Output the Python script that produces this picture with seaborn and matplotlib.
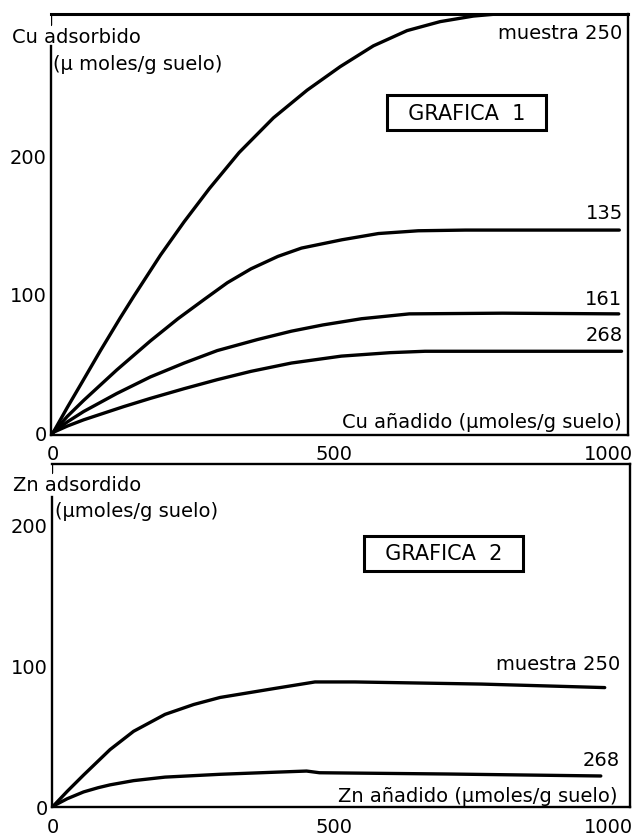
import matplotlib
matplotlib.use("Agg")
import matplotlib.pyplot as plt
import matplotlib.transforms as mtransforms
import numpy as np
import pandas as pd
import seaborn as sns

# ---------------- data ----------------
# GRAFICA 1 : Cu adsorbido vs Cu añadido
cu_250_x = [0, 25, 51, 84, 119, 143, 191, 233, 278, 331, 392, 452, 511, 570, 630, 689, 748, 790, 900, 1000]
cu_250_y = [0, 18, 36, 59, 82.5, 98, 128, 152, 176, 202, 227, 247, 264, 279, 290, 296.5, 300.5, 302, 302, 302]

cu_135_x = [0, 25, 54, 113, 173, 222, 269, 310, 352, 400, 442, 514, 579, 650, 734, 1008]
cu_135_y = [0, 11.5, 23, 45, 66, 82, 96, 108, 118, 127, 133, 139, 143.5, 145.5, 146, 146]

cu_161_x = [0, 25, 54, 113, 173, 233, 292, 364, 424, 480, 549, 634, 800, 1007]
cu_161_y = [0, 7.5, 15, 28, 40, 50, 59, 67, 73, 77.5, 82, 85.5, 86, 85.5]

cu_268_x = [0, 25, 54, 125, 173, 233, 292, 352, 424, 513, 600, 662, 800, 1012]
cu_268_y = [0, 4.5, 9, 18.5, 24.5, 31.5, 38, 44, 50, 55, 57.5, 58.5, 58.5, 58.5]

# GRAFICA 2 : Zn adsorbido vs Zn añadido
zn_250_x = [0, 25, 54, 101, 143, 199, 250, 297, 396, 466, 537, 762, 982]
zn_250_y = [0, 10.5, 22, 40, 53, 65, 72, 77, 83.5, 88, 88, 86.5, 84]

zn_268_x = [0, 25, 54, 80, 101, 143, 199, 297, 396, 451, 474, 703, 975]
zn_268_y = [0, 5.2, 10, 13, 15, 18, 20.5, 22.5, 24, 24.8, 23.6, 22.7, 21.3]

x_ticks = [0, 100, 200, 300, 400, 500, 600, 700, 800, 900, 1000]
x_ticklabels = ["0", "", "", "", "", "500", "", "", "", "", "1000"]
y_ticks = [0, 100, 200]
y_ticklabels = ["0", "100", "200"]

cu_labels = ["muestra 250", "135", "161", "268"]
zn_labels = ["muestra 250", "268"]

# ---------------- tables ----------------
def long_table(pairs, names):
    frames = []
    for (xs, ys), n in zip(pairs, names):
        frames.append(pd.DataFrame({"x": xs, "y": ys, "muestra": n}))
    return pd.concat(frames, ignore_index=True)

df_cu = long_table([(cu_250_x, cu_250_y), (cu_135_x, cu_135_y),
                    (cu_161_x, cu_161_y), (cu_268_x, cu_268_y)], cu_labels)
df_zn = long_table([(zn_250_x, zn_250_y), (zn_268_x, zn_268_y)], zn_labels)

# ---------------- style ----------------
sns.set_theme(style="white")
plt.rcParams["font.family"] = ["DejaVu Sans"]
plt.rcParams["axes.edgecolor"] = "black"
plt.rcParams["text.color"] = "black"
plt.rcParams["xtick.color"] = "black"
plt.rcParams["ytick.color"] = "black"

W, H = 635, 837
fig = plt.figure(figsize=(W / 100, H / 100), dpi=100)
fig.patch.set_facecolor("white")

def fx(px):
    return px / W

def fy(py):
    return 1 - py / H

FS = 14
LW_CURVE = 2.4
LW_SPINE = 1.7

ax1 = fig.add_axes([fx(51), fy(436), 577 / W, 421 / H])
ax2 = fig.add_axes([fx(52), fy(808), 578 / W, 343 / H])

pal_cu = {n: "black" for n in cu_labels}
pal_zn = {n: "black" for n in zn_labels}

sns.lineplot(data=df_cu, x="x", y="y", hue="muestra", palette=pal_cu,
             estimator=None, sort=False, legend=False, lw=LW_CURVE,
             solid_joinstyle="round", solid_capstyle="round", ax=ax1)
sns.lineplot(data=df_zn, x="x", y="y", hue="muestra", palette=pal_zn,
             estimator=None, sort=False, legend=False, lw=LW_CURVE,
             solid_joinstyle="round", solid_capstyle="round", ax=ax2)

ax1.set_xlim(-4.1, 1023.5)
ax1.set_ylim(-1.95, 302)
ax2.set_xlim(-2.3, 1027)
ax2.set_ylim(-0.7, 242.6)

for ax, spine_top, xpad in [(ax1, 279, 0), (ax2, 219, 1)]:
    ax.set_xlabel("")
    ax.set_ylabel("")
    ax.set_xticks(x_ticks)
    ax.set_xticklabels(x_ticklabels)
    ax.set_yticks(y_ticks)
    ax.set_yticklabels(y_ticklabels)
    ax.tick_params(axis="x", direction="out", length=6.5, width=1.5,
                   pad=xpad, labelsize=FS)
    ax.tick_params(axis="y", direction="in", length=6, width=1.5,
                   pad=3, labelsize=FS)
    for s in ax.spines.values():
        s.set_visible(True)
        s.set_linewidth(LW_SPINE)
        s.set_color("black")
    ax.spines["left"].set_bounds(ax.get_ylim()[0], spine_top)
    # small hook at the left end of the top frame line
    ax.axvline(ax.get_xlim()[0], ymin=0.975, ymax=1.0, color="black", lw=LW_SPINE)
    ax.grid(False)
    ax.set_facecolor("white")
    # keep the "1000" label inside the picture
    last = ax.get_xticklabels()[-1]
    last.set_transform(last.get_transform() +
                       mtransforms.ScaledTranslation(-6 / 100, 0, fig.dpi_scale_trans))

ax1.spines["top"].set_linewidth(2.2)

# ---------------- texts ----------------
def ftext(px, py, s, ha="left", va="center", size=FS, **kw):
    fig.text(fx(px), fy(py), s, ha=ha, va=va, fontsize=size, **kw)

# axis titles, graph 1
ftext(12, 37.5, "Cu adsorbido")
ftext(53, 64, "(µ moles/g suelo)")
ftext(622, 423, "Cu añadido (µmoles/g suelo)", ha="right")
# curve labels, graph 1
ftext(622, 33.5, "muestra 250", ha="right")
ftext(623, 213.5, cu_labels[1], ha="right")
ftext(622, 299.5, cu_labels[2], ha="right")
ftext(623, 335.5, cu_labels[3], ha="right")

# axis titles, graph 2
ftext(13, 485.5, "Zn adsordido")
ftext(55, 512, "(µmoles/g suelo)")
ftext(618, 797, "Zn añadido (µmoles/g suelo)", ha="right")
# curve labels, graph 2
ftext(620, 665, "muestra 250", ha="right")
ftext(620, 760.5, zn_labels[1], ha="right")

box = dict(boxstyle="square,pad=0.35", facecolor="white", edgecolor="black", lw=2.2)
ftext(466.5, 113.5, "  GRAFICA  1  ", ha="center", size=15, bbox=box)
ftext(443.5, 554.5, "  GRAFICA  2  ", ha="center", size=15, bbox=box)

fig.savefig("out.png", dpi=100, facecolor="white")
